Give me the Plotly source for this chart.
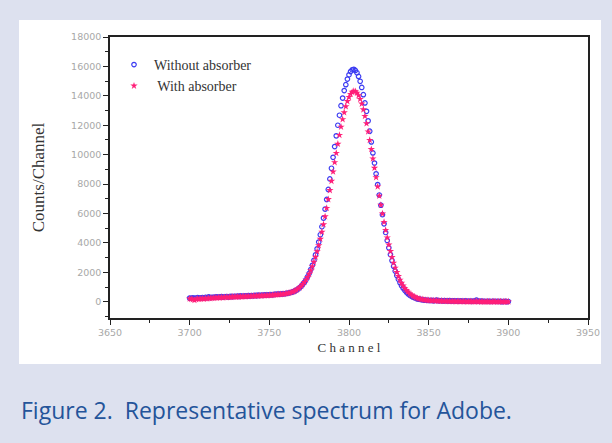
import plotly.graph_objects as go

channels = list(range(3700, 3901))

counts_without = [
    250, 240, 270, 230, 260, 280, 250, 270, 290, 260,
    300, 280, 330, 290, 310, 300, 320, 340, 310, 330,
    350, 320, 340, 360, 330, 350, 370, 350, 380, 360,
    390, 370, 400, 380, 390, 410, 390, 420, 400, 430,
    410, 440, 420, 450, 430, 460, 440, 470, 450, 480,
    470, 490, 480, 500, 510, 530,
    520, 530, 540, 550, 560, 580, 600, 620, 650, 690,
    740, 800, 870, 960, 1060, 1190, 1330, 1500, 1700, 1930,
    2190, 2480, 2820, 3190, 3600, 4060, 4560, 5100, 5690, 6300,
    6960, 7640, 8350, 9080, 9820, 10550, 11280, 12000, 12680, 13330,
    13850, 14360, 14760, 15140, 15430, 15650, 15770, 15800, 15730, 15570,
    15320, 14990, 14570, 14080, 13520, 12950, 12300, 11600, 10870, 10120,
    9430, 8700, 7970, 7260, 6570, 5920, 5300, 4710, 4170, 3670,
    3210, 2800, 2420, 2090, 1790, 1530, 1300, 1100, 930, 780,
    660, 550, 460, 390, 330, 280, 240, 200, 180, 160,
    140, 120, 110, 100, 100,
    90, 100, 80, 90, 110, 80, 70, 90, 60, 80,
    70, 60, 80, 50, 70, 60, 50, 70, 40, 60,
    50, 40, 60, 50, 40, 50, 30, 50, 40, 120,
    40, 30, 50, 30, 40, 20, 40, 30, 20, 30,
    40, 20, 30, 20, 30, 10, 20, 30, 10, 20,
]

counts_with = [
    210, 190, 170, 110, 180, 200, 190, 210, 220, 200,
    230, 220, 250, 240, 260, 250, 280, 270, 290, 280,
    300, 290, 310, 300, 320, 310, 320, 340, 330, 340,
    350, 340, 360, 350, 370, 360, 380, 370, 380, 390,
    400, 390, 410, 400, 420, 410, 430, 420, 440, 430,
    450, 440, 460, 470, 480, 490,
    500, 510, 520, 530, 550, 570, 590, 620, 650, 690,
    740, 800, 880, 960, 1070, 1190, 1330, 1490, 1680, 1890,
    2130, 2400, 2710, 3050, 3420, 3830, 4270, 4750, 5260, 5800,
    6370, 6970, 7580, 8210, 8840, 9480, 10110, 10730, 11330, 11890,
    12400, 12870, 13280, 13630, 13910, 14120, 14260, 14320, 14300, 14200,
    14030, 13780, 13460, 13070, 12620, 12120, 11570, 10990, 10370, 9730,
    9100, 8460, 7830, 7200, 6580, 5990, 5420, 4870, 4360, 3880,
    3440, 3030, 2650, 2310, 2010, 1740, 1490, 1280, 1090, 930,
    790, 670, 560, 480, 400, 340, 290, 240, 210, 180,
    160, 140, 120, 110, 100,
    90, 80, 90, 70, 80, 60, 50, 60, 40, 50,
    40, 50, 30, 40, 30, 40, 20, 30, 40, 20,
    30, 20, 30, 10, 20, 30, 20, 10, 20, 30,
    10, 20, 10, 20, 0, 10, 20, 10, 0, 10,
    20, 10, 0, 10, 20, 0, 10, 10, 0, 10,
]

series_names = ["Without absorber", " With absorber"]
x_ticks = [3650, 3700, 3750, 3800, 3850, 3900, 3950]
y_ticks = [0, 2000, 4000, 6000, 8000, 10000, 12000, 14000, 16000, 18000]
caption = "Figure 2.  Representative spectrum for Adobe."

W, H = 612, 443
L, R, T, B = 110, 588, 37, 318  # plot area in pixels


def px(xp):
    return (xp - L) / (R - L)


def py(yp):
    return (B - yp) / (B - T)


fig = go.Figure()
fig.add_trace(go.Scatter(
    x=channels, y=counts_without, mode="markers", name=series_names[0],
    marker=dict(symbol="circle-open", size=4.5, color="#3b3bf2", line=dict(width=1.2, color="#3b3bf2")),
))
fig.add_trace(go.Scatter(
    x=channels, y=counts_with, mode="markers", name=series_names[1],
    marker=dict(symbol="star", size=5.5, color="#ff1f78", line=dict(width=0)),
))

fig.add_shape(type="rect", xref="paper", yref="paper",
              x0=px(19), x1=px(601), y0=py(364), y1=py(20),
              fillcolor="white", line=dict(width=0), layer="below")

fig.add_annotation(text=caption, xref="paper", yref="paper",
                   x=px(19), y=py(410), xanchor="left", yanchor="middle",
                   showarrow=False, font=dict(family="Open Sans", size=23, color="#24549a"))

tickfont = dict(family="DejaVu Sans", size=9.5, color="#a8a8a8")
fig.update_xaxes(
    range=[3650, 3950], tickvals=x_ticks, ticktext=[str(v) for v in x_ticks],
    ticks="outside", ticklen=5, tickwidth=1, tickcolor="#222",
    minor=dict(dtick=25, tick0=3650, ticks="outside", ticklen=3, tickcolor="#222"),
    showline=True, linecolor="#222", linewidth=1.5, mirror=True,
    showgrid=False, zeroline=False, tickfont=tickfont,
    title=dict(text="C h a n n e l", font=dict(family="Liberation Serif", size=13, color="#333"), standoff=6),
)
fig.update_yaxes(
    range=[-1100, 18000], tickvals=y_ticks, ticktext=[str(v) for v in y_ticks],
    ticks="outside", ticklen=5, tickwidth=1, tickcolor="#222",
    minor=dict(dtick=1000, tick0=0, ticks="outside", ticklen=3, tickcolor="#222"),
    showline=True, linecolor="#222", linewidth=1.5, mirror=True,
    showgrid=False, zeroline=False, tickfont=tickfont,
    title=dict(text="Counts/Channel", font=dict(family="Liberation Serif", size=17, color="#333"), standoff=22),
)

fig.update_layout(
    width=W, height=H,
    margin=dict(l=L, r=W - R, t=T, b=H - B, pad=0),
    paper_bgcolor="#dde1ef", plot_bgcolor="white",
    showlegend=True,
    legend=dict(x=px(114), y=py(49), xanchor="left", yanchor="top",
                bgcolor="rgba(0,0,0,0)", font=dict(family="Liberation Serif", size=14, color="#333"),
                tracegroupgap=0, itemsizing="trace"),
)

fig.write_html("out.html")
